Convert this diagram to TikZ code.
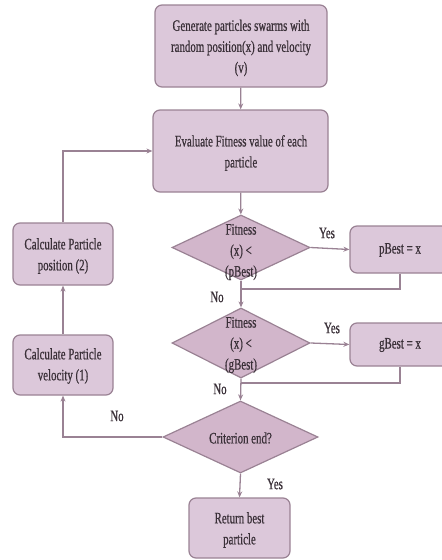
\documentclass[tikz,border=0pt]{standalone}
\usepackage{fontspec}
\setmainfont{Liberation Serif}[FakeStretch=0.68,FakeBold=0.6]
\usetikzlibrary{shapes.geometric,arrows.meta}
\definecolor{boxfill}{HTML}{DCC8DA}
\definecolor{diafill}{HTML}{D2B6CB}
\definecolor{edge}{HTML}{9A8294}
\definecolor{txtcol}{HTML}{3A3038}
\tikzset{
  box/.style={draw=edge, fill=boxfill, line width=1.2pt, rounded corners=7pt, inner sep=0pt},
  dia/.style={draw=edge, fill=diafill, line width=1.2pt, diamond, inner sep=0pt},
  txt/.style={text=txtcol, align=center, font=\fontsize{16}{21}\selectfont, inner sep=0pt},
  lab/.style={text=txtcol, font=\fontsize{16}{21}\selectfont, inner sep=0pt},
  conn/.style={draw=edge, line width=1.3pt},
  arr/.style={conn, -{Stealth[length=6pt,width=5pt]}}
}
\begin{document}
\begin{tikzpicture}[x=1pt,y=-1pt]
\useasboundingbox (0,0) rectangle (442,560);
\clip (0,0) rectangle (442,560);
% boxes
\node[box, minimum width=172, minimum height=82] (gen) at (241,46) {};
\node[txt] (gent) at (241,48) {Generate particles swarms with\\random position(x) and velocity\\(v)};
\node[box, minimum width=175, minimum height=82] (eval) at (240.5,151) {};
\node[txt] (evalt) at (241,153) {Evaluate Fitness value of each\\particle};
\node[dia, minimum width=138, minimum height=65] (d1) at (241,247.5) {};
\node[txt] (d1t) at (241,252) {Fitness\\(x) <\\(pBest)};
\node[box, minimum width=100, minimum height=47] (pb) at (400,249.5) {};
\node[txt] (pbt) at (400,250) {pBest = x};
\node[dia, minimum width=138, minimum height=70] (d2) at (241,343) {};
\node[txt] (d2t) at (241,345) {Fitness\\(x) <\\(gBest)};
\node[box, minimum width=100, minimum height=43] (gb) at (400,344.5) {};
\node[txt] (gbt) at (400,345) {gBest = x};
\node[dia, minimum width=155, minimum height=72] (d3) at (240.5,437) {};
\node[txt] (d3t) at (240.5,438) {Criterion end?};
\node[box, minimum width=101, minimum height=60] (ret) at (239.5,528) {};
\node[txt] (rett) at (239.5,530) {Return best\\particle};
\node[box, minimum width=100, minimum height=60] (vel) at (63,365) {};
\node[txt] (velt) at (63,366) {Calculate Particle\\velocity (1)};
\node[box, minimum width=100, minimum height=62] (pos) at (63,254) {};
\node[txt] (post) at (63,256) {Calculate Particle\\position (2)};
% coordinates
\coordinate (j1) at (241,289);
\coordinate (j2) at (241,383);
% connectors
\draw[arr] (gen) -- (eval);
\draw[arr] (eval) -- (d1);
\draw[arr] (d1.east) -- (pb.west);
\draw[conn] (pb.south) |- (j1);
\draw[arr] (d1.south) -- (d2.north);
\draw[arr] (d2.east) -- (gb.west);
\draw[conn] (gb.south) |- (j2);
\draw[arr] (d2.south) -- (d3.north);
\draw[arr] (d3.west) -| (vel.south);
\draw[arr] (vel.north) -- (pos.south);
\draw[arr] (pos.north) |- (eval.west);
\draw[arr] (d3.south) -- (ret.north);
% labels
\node[lab] (y1) at (327,233) {Yes};
\node[lab] (n1) at (217,297) {No};
\node[lab] (y2) at (332,328) {Yes};
\node[lab] (n2) at (220,389) {No};
\node[lab] (n3) at (117,416) {No};
\node[lab] (y3) at (275,484) {Yes};
\end{tikzpicture}
\end{document}
